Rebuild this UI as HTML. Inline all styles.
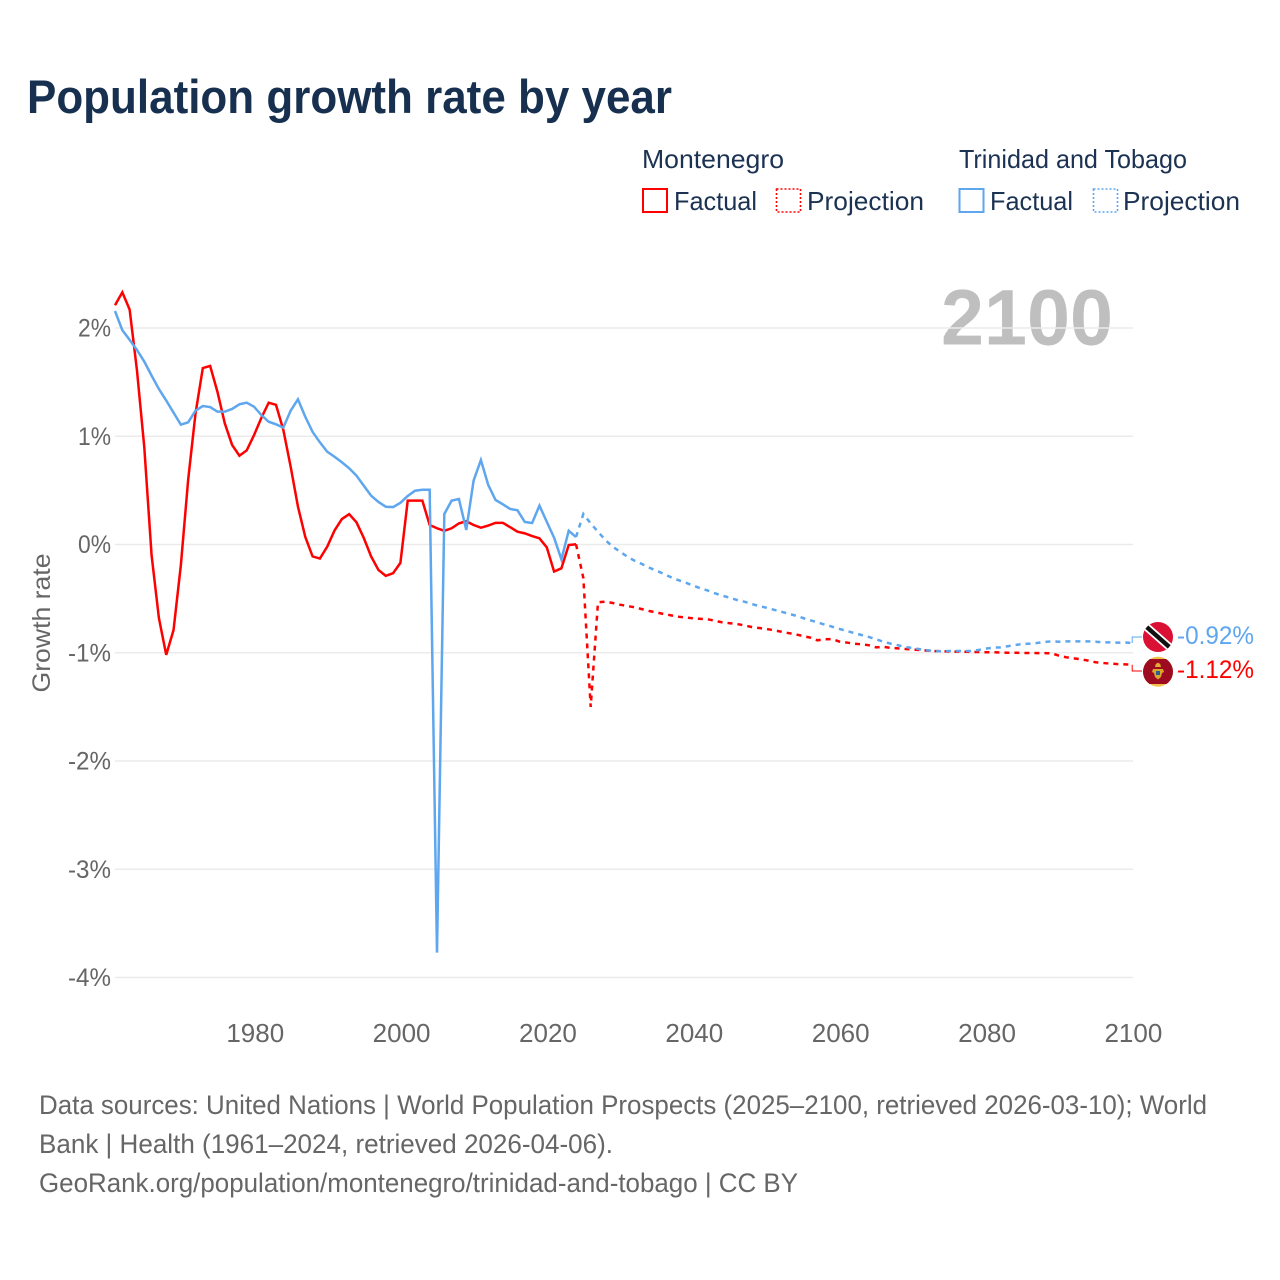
<!DOCTYPE html>
<html lang="en">
<head>
<meta charset="utf-8">
<title>Population growth rate by year</title>
<style>
html,body{margin:0;padding:0;background:#fff;width:1280px;height:1280px;overflow:hidden}
svg{display:block;font-family:"Liberation Sans",Arial,sans-serif}
</style>
</head>
<body>
<svg id="chart" xmlns="http://www.w3.org/2000/svg" width="1280" height="1280" viewBox="0 0 1280 1280">
  <defs>
    <clipPath id="clip-tt"><circle cx="1158" cy="637" r="15"/></clipPath>
    <clipPath id="clip-me"><circle cx="1158" cy="671.7" r="15"/></clipPath>
  </defs>
  <rect width="1280" height="1280" fill="#fff"/>
  <text x="27" y="113" font-size="47" font-weight="700" fill="#17304f" textLength="645" lengthAdjust="spacingAndGlyphs">Population growth rate by year</text>

  <g font-size="26" fill="#1b3252">
    <text x="642" y="168" textLength="142" lengthAdjust="spacingAndGlyphs">Montenegro</text>
    <text x="959" y="168" textLength="228" lengthAdjust="spacingAndGlyphs">Trinidad and Tobago</text>
    <rect x="643" y="189" width="24" height="23" fill="none" stroke="#ff0000" stroke-width="2"/>
    <text x="674" y="210" textLength="83" lengthAdjust="spacingAndGlyphs">Factual</text>
    <rect x="776.5" y="189" width="24" height="23" fill="none" stroke="#ff0000" stroke-width="1.6" stroke-dasharray="2 2"/>
    <text x="807" y="210" textLength="117" lengthAdjust="spacingAndGlyphs">Projection</text>
    <rect x="959.5" y="189" width="24" height="23" fill="none" stroke="#5ea6ee" stroke-width="2"/>
    <text x="990" y="210" textLength="83" lengthAdjust="spacingAndGlyphs">Factual</text>
    <rect x="1093.5" y="189" width="24" height="23" fill="none" stroke="#5ea6ee" stroke-width="1.6" stroke-dasharray="2 2"/>
    <text x="1123" y="210" textLength="117" lengthAdjust="spacingAndGlyphs">Projection</text>
  </g>

  <text x="1113" y="344.5" text-anchor="end" font-size="79" font-weight="700" fill="#bfbfbf" textLength="172" lengthAdjust="spacingAndGlyphs">2100</text>
  <text transform="translate(50 623) rotate(-90)" text-anchor="middle" font-size="25" fill="#666" textLength="139" lengthAdjust="spacingAndGlyphs">Growth rate</text>

  <g id="grid"></g>
  <g id="yticks" font-size="25" fill="#666" text-anchor="end"></g>
  <g id="xticks" font-size="26" fill="#666" text-anchor="middle"></g>
  <g id="series"></g>

  <g clip-path="url(#clip-tt)">
    <rect x="1143" y="622" width="30" height="30" fill="#da1035"/>
    <line x1="1141" y1="622" x2="1175" y2="652" stroke="#fff" stroke-width="8"/>
    <line x1="1141" y1="622" x2="1175" y2="652" stroke="#111" stroke-width="4.4"/>
  </g>
  <g clip-path="url(#clip-me)">
    <rect x="1143" y="656" width="30" height="31.5" fill="#f0c24a"/>
    <rect x="1143" y="659" width="30" height="25" fill="#9c0b1f"/>
    <path d="M1155 667 l0.8 -3 l2.2 -1.4 l2.2 1.4 l0.8 3z" fill="#e0ad30"/>
    <path d="M1153 669 h10 l1 3 l-2 1 l-1 4 l-3 2.5 l-3 -2.5 l-1 -4 l-2 -1z" fill="#d9a62e"/>
    <rect x="1156" y="671" width="4" height="4" fill="#2f5c8f"/>
  </g>

  <text x="1177" y="644" font-size="25" fill="#5ea6ee" textLength="77" lengthAdjust="spacingAndGlyphs">-0.92%</text>
  <text x="1177" y="678" font-size="25" fill="#ff0000" textLength="77" lengthAdjust="spacingAndGlyphs">-1.12%</text>

  <g font-size="27" fill="#666">
    <text x="39" y="1114" textLength="1168" lengthAdjust="spacingAndGlyphs">Data sources: United Nations | World Population Prospects (2025–2100, retrieved 2026-03-10); World</text>
    <text x="39" y="1153" textLength="574" lengthAdjust="spacingAndGlyphs">Bank | Health (1961–2024, retrieved 2026-04-06).</text>
    <text x="39" y="1192" textLength="759" lengthAdjust="spacingAndGlyphs">GeoRank.org/population/montenegro/trinidad-and-tobago | CC BY</text>
  </g>
</svg>
<script>
var yTickValues = [2, 1, 0, -1, -2, -3, -4];
var yTickLabels = ["2%", "1%", "0%", "-1%", "-2%", "-3%", "-4%"];
var xTickValues = [1980, 2000, 2020, 2040, 2060, 2080, 2100];
var xTickLabels = ["1980", "2000", "2020", "2040", "2060", "2080", "2100"];
var factualStartYear = 1961;
var projectionStartYear = 2025;

var montenegroFactual = [2.21, 2.33, 2.17, 1.61, 0.9, -0.1, -0.68, -1.02, -0.79, -0.19,
  0.6, 1.21, 1.63, 1.65, 1.41, 1.12, 0.92, 0.82, 0.87, 1.01,
  1.17, 1.31, 1.29, 1.06, 0.72, 0.35, 0.07, -0.11, -0.13, -0.02,
  0.13, 0.235, 0.28, 0.205, 0.06, -0.11, -0.235, -0.29, -0.265, -0.17,
  0.405, 0.405, 0.405, 0.18, 0.15, 0.127, 0.15, 0.195, 0.215, 0.18,
  0.155, 0.175, 0.2, 0.2, 0.16, 0.118, 0.103, 0.078, 0.057, -0.026,
  -0.25, -0.22, -0.005, 0.002];

var montenegroProjection = [-0.31, -1.5, -0.534, -0.528, -0.54, -0.556, -0.568, -0.58, -0.597, -0.614,
  -0.628, -0.642, -0.655, -0.667, -0.675, -0.682, -0.687, -0.691, -0.705, -0.719,
  -0.727, -0.734, -0.748, -0.762, -0.771, -0.78, -0.792, -0.805, -0.818, -0.83,
  -0.845, -0.86, -0.885, -0.876, -0.874, -0.897, -0.906, -0.916, -0.922, -0.93,
  -0.95, -0.945, -0.955, -0.96, -0.965, -0.97, -0.975, -0.98, -0.985, -0.985,
  -0.99, -0.99, -0.99, -0.993, -0.993, -0.995, -0.995, -0.998, -1.0, -1.0,
  -1.002, -1.002, -1.003, -1.004, -1.005, -1.027, -1.042, -1.052, -1.061, -1.073,
  -1.088, -1.095, -1.1, -1.105, -1.107, -1.11];

var trinidadFactual = [2.157, 1.98, 1.89, 1.797, 1.69, 1.56, 1.436, 1.33, 1.218, 1.107,
  1.129, 1.236, 1.279, 1.27, 1.227, 1.227, 1.252, 1.295, 1.31, 1.273,
  1.196, 1.134, 1.11, 1.08, 1.236, 1.341, 1.18, 1.04, 0.944, 0.857,
  0.811, 0.76, 0.704, 0.636, 0.543, 0.451, 0.393, 0.349, 0.346, 0.385,
  0.448, 0.497, 0.506, 0.506, -3.77, 0.282, 0.405, 0.42, 0.134, 0.59,
  0.78, 0.55, 0.411, 0.371, 0.328, 0.316, 0.208, 0.199, 0.359, 0.21,
  0.063, -0.137, 0.127, 0.069];

var trinidadProjection = [0.282, 0.195, 0.118, 0.042, -0.02, -0.066, -0.112, -0.15, -0.18, -0.214,
  -0.242, -0.272, -0.303, -0.33, -0.353, -0.38, -0.405, -0.426, -0.451, -0.473,
  -0.491, -0.513, -0.528, -0.55, -0.568, -0.584, -0.602, -0.62, -0.639, -0.657,
  -0.679, -0.7, -0.719, -0.741, -0.759, -0.78, -0.799, -0.818, -0.836, -0.854,
  -0.876, -0.898, -0.916, -0.931, -0.947, -0.956, -0.968, -0.977, -0.984, -0.987,
  -0.984, -0.984, -0.984, -0.984, -0.975, -0.962, -0.953, -0.95, -0.94, -0.928,
  -0.919, -0.916, -0.91, -0.9, -0.895, -0.898, -0.895, -0.895, -0.895, -0.895,
  -0.898, -0.904, -0.904, -0.907, -0.905, -0.91];

var SVGNS = "http://www.w3.org/2000/svg";
var RED = "#ff0000";
var BLUE = "#5ea6ee";

function xScale(year) { return 115 + (year - 1961) * 7.318; }
function yScale(value) { return 544.5 - value * 108.25; }

function linePath(startYear, values) {
  return values.map(function (v, i) {
    return (i ? "L" : "M") + xScale(startYear + i).toFixed(2) + " " + yScale(v).toFixed(2);
  }).join("");
}

var gridGroup = document.getElementById("grid");
var yGroup = document.getElementById("yticks");
var xGroup = document.getElementById("xticks");
var seriesGroup = document.getElementById("series");

yTickValues.forEach(function (v, i) {
  var g = document.createElementNS(SVGNS, "line");
  g.setAttribute("x1", 115);
  g.setAttribute("x2", 1133);
  g.setAttribute("y1", yScale(v));
  g.setAttribute("y2", yScale(v));
  g.setAttribute("stroke", "#ebebeb");
  g.setAttribute("stroke-width", "1.4");
  
  
  gridGroup.appendChild(g);

  var t = document.createElementNS(SVGNS, "text");
  t.setAttribute("x", 111);
  t.setAttribute("y", yScale(v) + 8.5);
  t.setAttribute("textLength", yTickLabels[i].length === 3 ? 43 : 33);
  t.setAttribute("lengthAdjust", "spacingAndGlyphs");
  t.textContent = yTickLabels[i];
  
  
  yGroup.appendChild(t);
});

xTickValues.forEach(function (year, i) {
  var t = document.createElementNS(SVGNS, "text");
  t.setAttribute("x", xScale(year) + 1.2);
  t.setAttribute("y", 1042);
  t.textContent = xTickLabels[i];
  
  
  xGroup.appendChild(t);
});

function addPath(d, color, dashed, width) {
  var p = document.createElementNS(SVGNS, "path");
  p.setAttribute("d", d);
  p.setAttribute("fill", "none");
  p.setAttribute("stroke", color);
  p.setAttribute("stroke-width", width);
  p.setAttribute("stroke-linejoin", "miter");
  if (dashed) p.setAttribute("stroke-dasharray", "5 5");
  seriesGroup.appendChild(p);
  return p;
}

function lastOf(a) { return a[a.length - 1]; }

var mfLine = addPath(linePath(factualStartYear, montenegroFactual), RED, false, 2.5);



var tfLine = addPath(linePath(factualStartYear, trinidadFactual), BLUE, false, 2.5);



var mpLine = addPath(linePath(projectionStartYear - 1, [lastOf(montenegroFactual)].concat(montenegroProjection)), RED, true, 2.5);



var tpLine = addPath(linePath(projectionStartYear - 1, [lastOf(trinidadFactual)].concat(trinidadProjection)), BLUE, true, 2.5);



function connector(value, flagY, color) {
  var x0 = xScale(2100);
  return addPath("M" + x0 + " " + yScale(value).toFixed(1) + "V" + flagY + "H1142", color, false, 1);
}

var tConn = connector(lastOf(trinidadProjection), 637, BLUE);



var mConn = connector(lastOf(montenegroProjection), 671, RED);


</script>
</body>
</html>
